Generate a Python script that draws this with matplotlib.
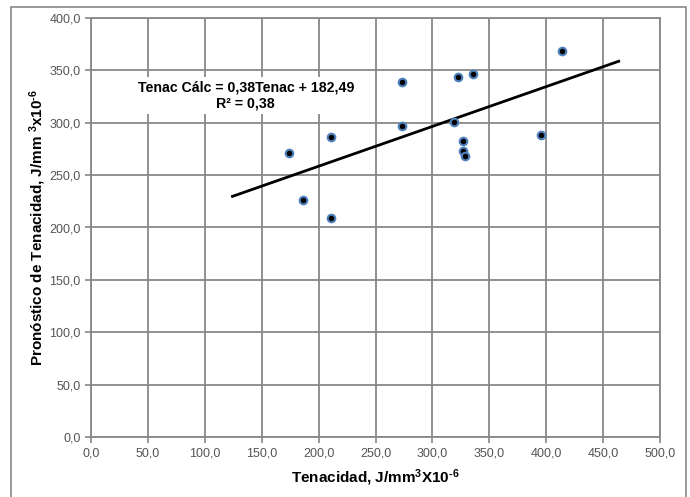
import matplotlib
matplotlib.use('Agg')
import matplotlib.pyplot as plt
from matplotlib.patches import Rectangle

plt.rcParams['font.family'] = ['Liberation Sans', 'DejaVu Sans']
plt.rcParams['mathtext.fontset'] = 'custom'
plt.rcParams['mathtext.rm'] = 'Liberation Sans:bold'
plt.rcParams['mathtext.bf'] = 'Liberation Sans:bold'
plt.rcParams['mathtext.default'] = 'rm'

# datos
tenacidad = [174.3, 186.6, 211.3, 211.3, 272.9, 272.9, 318.7, 322.2, 335.4,
             326.6, 326.6, 328.3, 395.2, 413.7]
pronostico = [271.1, 226.5, 286.0, 208.8, 339.0, 296.5, 300.3, 343.3, 347.0,
              282.3, 273.0, 268.0, 288.4, 368.3]

# línea de tendencia (Excel)
pendiente = 0.38
intercepto = 182.49
extension = 50

x_ticks = [0, 50, 100, 150, 200, 250, 300, 350, 400, 450, 500]
y_ticks = [0, 50, 100, 150, 200, 250, 300, 350, 400]

gris = '#888888'

fig = plt.figure(figsize=(6.9, 4.97), dpi=100)
ax = fig.add_axes([91 / 690, 60 / 497, 569 / 690, 419 / 497])

# marco exterior
fig.patches.append(Rectangle((11 / 690, -0.05), 675 / 690, 1.05 - 7 / 497,
                             transform=fig.transFigure, fill=False,
                             edgecolor=gris, linewidth=1.2))

ax.set_xlim(0, 500)
ax.set_ylim(0, 400)
ax.set_xticks(x_ticks)
ax.set_yticks(y_ticks)
ax.set_xticklabels([f'{v:.1f}'.replace('.', ',') for v in x_ticks])
ax.set_yticklabels([f'{v:.1f}'.replace('.', ',') for v in y_ticks])
ax.tick_params(colors=gris, labelcolor='#555555', labelsize=9,
               length=4, width=1.2, direction='out')
ax.grid(True, color=gris, linewidth=1.3)
ax.set_axisbelow(True)
for s in ax.spines.values():
    s.set_color(gris)
    s.set_linewidth(1.3)

ax.scatter(tenacidad, pronostico, s=30, color='black',
           edgecolors='#4F81BD', linewidths=1.5, zorder=3)

x0 = min(tenacidad) - extension
x1 = max(tenacidad) + extension
ax.plot([x0, x1], [pendiente * x0 + intercepto, pendiente * x1 + intercepto],
        color='black', linewidth=2, zorder=2)

ax.text(136, 326, 'Tenac Cálc = 0,38Tenac + 182,49\nR² = 0,38',
        ha='center', va='center', fontsize=10.2, fontweight='bold',
        linespacing=1.1,
        bbox=dict(facecolor='white', edgecolor='none', pad=3), zorder=4)

ax.set_xlabel(r'Tenacidad, J/mm$^{3}$X10$^{\text{-6}}$', fontsize=11,
              fontweight='bold', labelpad=6)
ax.set_ylabel(r'Pronóstico de Tenacidad, J/mm $^{3}$x10$^{\text{-6}}$',
              fontsize=11, fontweight='bold')
ax.yaxis.set_label_coords(-0.076, 0.5)

fig.savefig('out.png', dpi=100)
